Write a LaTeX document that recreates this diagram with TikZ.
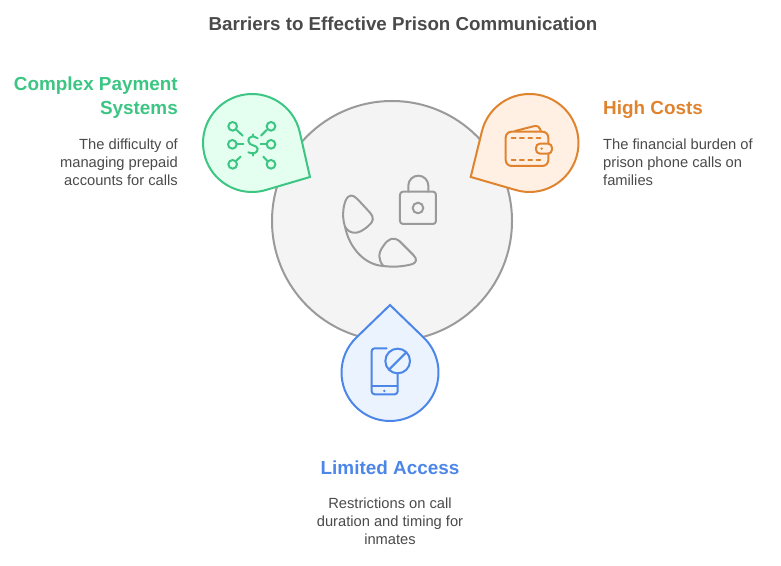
\documentclass[tikz,border=0pt]{standalone}
\usepackage{fontspec}
\setmainfont{Liberation Sans}
\usetikzlibrary{positioning,calc}
\definecolor{hubline}{HTML}{9A9A9A}
\definecolor{hubfill}{HTML}{F4F4F4}
\definecolor{inktext}{HTML}{4A4A4A}
\definecolor{payline}{HTML}{3CC583}
\definecolor{payfill}{HTML}{E4FFF0}
\definecolor{costline}{HTML}{E0832F}
\definecolor{costfill}{HTML}{FFF0E3}
\definecolor{accline}{HTML}{4C86E8}
\definecolor{accfill}{HTML}{EBF3FF}
% centre x, centre y, tip direction, tip distance, radius
\newcommand{\droplet}[6]{
  \pgfmathsetmacro{\halfang}{acos(#5/#4)}
  \draw[#6,line width=2pt,line join=miter]
    (#1,#2) ++(#3+\halfang:#5)
    arc[start angle=#3+\halfang,end angle=#3+360-\halfang,radius=#5]
    -- ($(#1,#2)+(#3:#4)$) -- cycle;
}
\begin{document}
\begin{tikzpicture}[x=1pt,y=1pt,
      head/.style={font=\bfseries\fontsize{18.9}{24}\selectfont,inner sep=0pt},
      body/.style={font=\fontsize{14.7}{18}\selectfont,text=inktext,inner sep=0pt},
      zoomed/.style={x=0.3333pt,y=-0.3333pt,line width=2pt,line cap=round,line join=round}]
    \useasboundingbox (0,0) rectangle (781,565);
    \node[font=\bfseries\fontsize{18.75}{22}\selectfont,text=inktext,inner sep=0pt] (title) at (403,541)
      {Barriers to Effective Prison Communication};

    \node[circle,draw=hubline,fill=hubfill,line width=2pt,minimum size=240pt,outer sep=0pt] (hub) at (392,344) {};

    \droplet{252}{422}{-30.4}{67.2}{49}{draw=payline,fill=payfill}
    \droplet{529.5}{422}{210}{67.9}{49}{draw=costline,fill=costfill}
    \droplet{390}{192.5}{90}{67.5}{48.5}{draw=accline,fill=accfill}

    % handset and lock
    \begin{scope}[shift={(330,400)},zoomed,draw=hubline]
      \draw (45,185) .. controls (33,150) and (42,105) .. (55,95)
        .. controls (65,87) and (75,95) .. (85,105)
        -- (120,143) .. controls (133,157) and (130,170) .. (118,180)
        .. controls (100,197) and (85,205) .. (70,203)
        .. controls (60,202) and (50,195) .. (45,185);
      \draw (45,185) .. controls (58,250) and (105,300) .. (160,303);
      \draw (160,303) .. controls (145,285) and (143,265) .. (160,243)
        .. controls (175,220) and (190,215) .. (208,228)
        -- (250,270) .. controls (262,282) and (260,292) .. (248,297)
        .. controls (220,305) and (190,307) .. (160,303);
      \draw[rounded corners=3pt] (210,80) rectangle (318,177);
      \draw (235,80) -- (235,62) arc[start angle=180,end angle=360,radius=30] -- (295,80);
      \draw (264,129) circle[radius=16];
    \end{scope}

    % dollar with branches
    \begin{scope}[shift={(190,480)},zoomed,draw=payline]
      \foreach \nx/\ny in {128/124,243/124,127/178,243/178,128/238,243/238}
        \draw (\nx,\ny) circle[radius=13];
      \draw (140,135) -- (158,152);
      \draw (230,135) -- (213,152);
      \draw (140,178) -- (160,178);
      \draw (232,178) -- (212,178);
      \draw (138,228) -- (152,215);
      \draw (232,228) -- (220,215);
      \draw (203,160) .. controls (190,150) and (175,155) .. (175,167)
        .. controls (175,185) and (203,178) .. (203,192)
        .. controls (203,205) and (188,208) .. (175,202);
      \draw (188,148) -- (188,154);
      \draw (188,206) -- (188,212);
    \end{scope}

    % wallet
    \begin{scope}[shift={(460,480)},zoomed,draw=costline]
      \draw[rounded corners=6pt] (228,140) -- (137,140) -- (137,243) -- (265,243) -- (265,206);
      \draw[rounded corners=6pt] (228,140) -- (265,140) -- (265,176);
      \draw[rounded corners=4pt] (165,138) -- (236,120) -- (243,140);
      \draw[dash pattern=on 3.9pt off 4.4pt] (155,158) -- (245,158);
      \draw[dash pattern=on 3.9pt off 4.4pt] (155,225) -- (245,225);
      \draw[rounded corners=4pt] (228,176) rectangle (276,206);
      \fill[costline] (245,191) circle[radius=4];
    \end{scope}

    % phone with ban sign
    \begin{scope}[shift={(330,270)},zoomed,draw=accline]
      \draw[rounded corners=3pt] (170,160) -- (125,160) -- (125,298) -- (203,298) -- (203,236);
      \draw (125,272) -- (203,272);
      \fill[accline] (163,288) circle[radius=4];
      \draw (203,198) circle[radius=37];
      \draw (177,224) -- (229,172);
    \end{scope}

    \node[head,text=payline,align=right,anchor=north east] (payhead) at (178,488) {Complex Payment\\Systems};
    \node[body,align=right,below=20pt of payhead.south east,anchor=north east] (paybody)
      {The difficulty of\\managing prepaid\\accounts for calls};

    \node[head,text=costline,anchor=north west] (costhead) at (603,464) {High Costs};
    \node[body,align=left,below=20pt of costhead.south west,anchor=north west] (costbody)
      {The financial burden of\\prison phone calls on\\families};

    \node[head,text=accline] (acchead) at (390,97) {Limited Access};
    \node[body,align=center,below=23pt of acchead] (accbody)
      {Restrictions on call\\duration and timing for\\inmates};
  \end{tikzpicture}
\end{document}
